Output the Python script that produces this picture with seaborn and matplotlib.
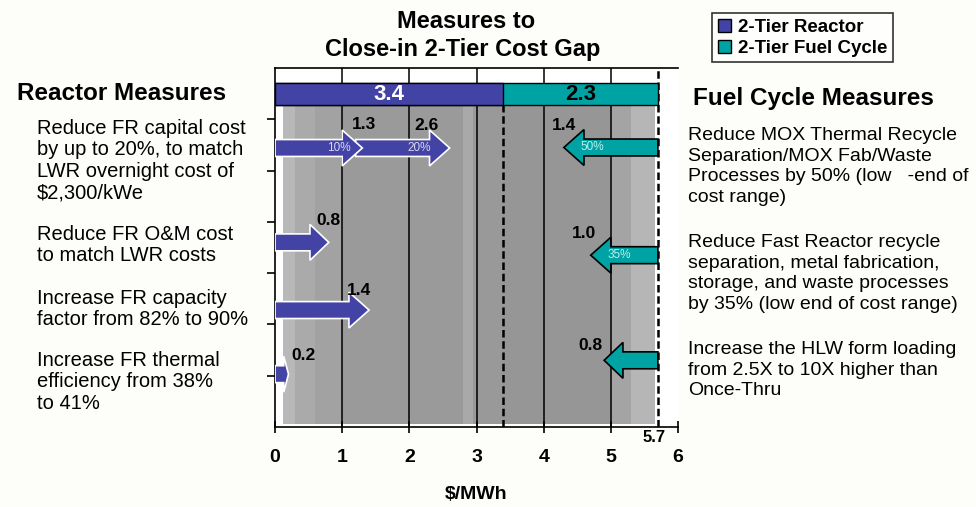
import matplotlib
matplotlib.use("Agg")
import matplotlib.pyplot as plt
from matplotlib.patches import FancyArrow, Patch
import pandas as pd
import seaborn as sns

# gap between the two tiers, $/MWh
reactor_gap = 3.4
fuel_gap = 2.3
total_gap = 5.7

# reactor measures (arrows from 0 to the right)
reactor_texts = [
    "Reduce FR capital cost\nby up to 20%, to match\nLWR overnight cost of\n$2,300/kWe",
    "Reduce FR O&M cost\nto match LWR costs",
    "Increase FR capacity\nfactor from 82% to 90%",
    "Increase FR thermal\nefficiency from 38%\nto 41%",
]
capital_steps = [1.3, 2.6]
capital_pct = ["10%", "20%"]
reactor_other = [0.8, 1.4, 0.2]

# fuel cycle measures (arrows from 5.7 to the left)
fuel_texts = [
    "Reduce MOX Thermal Recycle\nSeparation/MOX Fab/Waste\nProcesses by 50% (low   -end of\ncost range)",
    "Reduce Fast Reactor recycle\nseparation, metal fabrication,\nstorage, and waste processes\nby 35% (low end of cost range)",
    "Increase the HLW form loading\nfrom 2.5X to 10X higher than\nOnce-Thru",
]
fuel_savings = [1.4, 1.0, 0.8]
fuel_pct = ["50%", "35%", ""]

blue = "#4343A6"
teal = "#00A3A3"

sns.set_theme(style="white")
plt.rcParams["font.family"] = ["Liberation Sans", "DejaVu Sans"]
plt.rcParams["text.color"] = "black"
plt.rcParams["xtick.color"] = "black"
plt.rcParams["ytick.color"] = "black"
plt.rcParams["axes.labelcolor"] = "black"

fig = plt.figure(figsize=(9.76, 5.07), dpi=100)
fig.patch.set_facecolor("#FDFDFA")
ax = fig.add_axes([0.2818, 0.1578, 0.4129, 0.7081])
ax.set_facecolor("white")
ax.set_xlim(0, 6)
ax.set_ylim(0, 7)

# grey backdrop
bands = [(0.12, 0.3, "#b8b8b8"), (0.3, 0.6, "#aaaaaa"), (0.6, 1.0, "#a2a2a2"),
         (1.0, 2.8, "#9a9a9a"), (2.8, 2.95, "#a9a9a9"), (2.95, 3.4, "#999999"),
         (3.4, 5.0, "#969696"), (5.0, 5.3, "#a4a4a4"), (5.3, 5.65, "#b6b6b6")]
for x0, x1, c in bands:
    ax.fill_between([x0, x1], 0.05, 6.28, color=c, lw=0, zorder=0)

for xv in range(1, 6):
    ax.axvline(xv, color="black", lw=1.1, zorder=1)
ax.plot([reactor_gap, reactor_gap], [0, 6.28], color="black", lw=1.8, ls=(0, (3, 1.5)), zorder=2)
ax.plot([total_gap, total_gap], [0, 7], color="black", lw=1.8, ls=(0, (3, 1.5)), zorder=2)

# stacked gap bar
gap = pd.DataFrame({"part": ["2-Tier Fuel Cycle", "2-Tier Reactor"],
                    "end": [total_gap, reactor_gap], "y": [6.49, 6.49]})
sns.barplot(data=gap, x="end", y="y", hue="part", orient="h", native_scale=True,
            hue_order=["2-Tier Fuel Cycle", "2-Tier Reactor"], palette=[teal, blue],
            saturation=1, dodge=False, width=0.42, edgecolor="black", linewidth=1,
            legend=False, ax=ax)
for bar in ax.patches:
    bar.set_zorder(3)
ax.set_ylim(0, 7)
ax.text(reactor_gap / 2, 6.49, f"{reactor_gap}", color="white", fontsize=16, fontweight="bold",
        ha="center", va="center", zorder=4)
ax.text(reactor_gap + fuel_gap / 2, 6.49, f"{fuel_gap}", color="black", fontsize=16,
        fontweight="bold", ha="center", va="center", zorder=4)


def block_arrow(x0, x1, y, fc, ec):
    length = abs(x1 - x0)
    hl = min(0.3, 0.35 * length)
    ax.add_patch(FancyArrow(x0, y, x1 - x0, 0, width=0.33, head_width=0.7, head_length=hl,
                            length_includes_head=True, fc=fc, ec=ec, lw=1.2, zorder=5))


# reactor arrows
cap_y = 5.44
block_arrow(capital_steps[0] - 0.1, capital_steps[1], cap_y, blue, "white")
block_arrow(0, capital_steps[0], cap_y, blue, "white")
ax.text(0.95, cap_y, capital_pct[0], color="#d8d8f0", fontsize=8.5, ha="center", va="center", zorder=6)
ax.text(2.15, cap_y, capital_pct[1], color="#d8d8f0", fontsize=8.5, ha="center", va="center", zorder=6)
ax.text(1.33, 5.9, f"{capital_steps[0]}", fontsize=12.5, fontweight="bold", ha="center", va="center", zorder=6)
ax.text(2.25, 5.87, f"{capital_steps[1]}", fontsize=12.5, fontweight="bold", ha="center", va="center", zorder=6)

other_y = [3.6, 2.28, 1.03]
other_lab = [(0.8, 4.03), (1.25, 2.67), (0.42, 1.4)]
for val, yy, (lx, ly) in zip(reactor_other, other_y, other_lab):
    block_arrow(0, val, yy, blue, "white")
    ax.text(lx, ly, f"{val}", fontsize=12.5, fontweight="bold", ha="center", va="center", zorder=6)

# fuel cycle arrows
fuel_y = [5.45, 3.35, 1.3]
fuel_lab = [(4.3, 5.87), (4.6, 3.78), (4.7, 1.58)]
for val, pct, yy, (lx, ly) in zip(fuel_savings, fuel_pct, fuel_y, fuel_lab):
    block_arrow(total_gap, total_gap - val, yy, teal, "black")
    ax.text(lx, ly, f"{val}", fontsize=12.5, fontweight="bold", ha="center", va="center", zorder=6)
    if pct:
        ax.text(total_gap - val + 0.42, yy, pct, color="#b8f0f0", fontsize=8.5,
                ha="center", va="center", zorder=6)

ax.text(total_gap - 0.05, -0.05, f"{total_gap}", fontsize=12, fontweight="bold",
        ha="center", va="top", zorder=6)

# axes styling
for side in ["left", "bottom", "top"]:
    ax.spines[side].set_visible(True)
    ax.spines[side].set_color("black")
    ax.spines[side].set_linewidth(1.2)
ax.spines["right"].set_visible(False)
ax.set_xticks(range(0, 7))
ax.set_xticklabels([str(i) for i in range(0, 7)], fontsize=14, fontweight="bold")
ax.set_yticks(range(1, 7))
ax.set_yticklabels([])
ax.tick_params(axis="x", direction="inout", length=8, width=1.2, pad=12, bottom=True)
ax.tick_params(axis="y", direction="out", length=6, width=1.2, left=True)
ax.set_xlabel("$/MWh", fontsize=14, fontweight="bold", labelpad=14)
ax.set_ylabel("")

# titles and side texts
fig.text(0.478, 0.958, "Measures to", fontsize=17, fontweight="bold", ha="center", va="center")
fig.text(0.474, 0.903, "Close-in 2-Tier Cost Gap", fontsize=17, fontweight="bold", ha="center", va="center")
fig.text(17 / 976, 1 - 93 / 507, "Reactor Measures", fontsize=17.5, fontweight="bold", va="center")
fig.text(693 / 976, 1 - 98 / 507, "Fuel Cycle Measures", fontsize=17.5, fontweight="bold", va="center")

left_tops = [119, 225, 289, 351]
for txt, top in zip(reactor_texts, left_tops):
    fig.text(37 / 976, 1 - top / 507, txt, fontsize=14.5, va="top", ha="left", linespacing=1.16)
right_tops = [127, 234, 341]
for txt, top in zip(fuel_texts, right_tops):
    fig.text(688 / 976, 1 - top / 507, txt, fontsize=14, va="top", ha="left", linespacing=1.28)

handles = [Patch(fc=blue, ec="black", lw=1), Patch(fc=teal, ec="black", lw=1)]
leg = fig.legend(handles, ["2-Tier Reactor", "2-Tier Fuel Cycle"], loc="upper left",
                 bbox_to_anchor=(712 / 976, 1 - 13 / 507), borderaxespad=0, frameon=True,
                 fancybox=False, handlelength=0.7, handleheight=0.7, handletextpad=0.4,
                 borderpad=0.3, labelspacing=0.2, prop={"size": 13.5, "weight": "bold"})
leg.get_frame().set_edgecolor("black")
leg.get_frame().set_linewidth(1.2)

fig.savefig("out.png", dpi=100, facecolor=fig.get_facecolor())
